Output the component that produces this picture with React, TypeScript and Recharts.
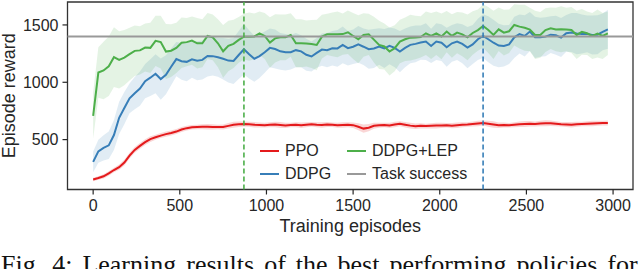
import { ComposedChart, Line, Area, XAxis, YAxis, ReferenceLine, ReferenceArea, Label } from 'recharts';

// training episodes, sampled every 30
const EPISODES = Array.from({ length: 100 }, (_, i) => i * 30);

const PPO = [
    152, 165, 180, 205, 235, 260, 300, 360, 410, 445,
    478, 505, 520, 535, 548, 558, 570, 588, 600, 608,
    610, 612, 612, 611, 610, 610, 620, 630, 634, 636,
    634, 630, 628, 626, 630, 632, 628, 624, 628, 630,
    626, 630, 634, 630, 628, 632, 630, 626, 628, 630,
    626, 612, 596, 604, 620, 625, 628, 624, 632, 639,
    630, 622, 616, 620, 618, 620, 622, 624, 625, 622,
    626, 630, 632, 636, 640, 645, 638, 632, 625, 627,
    625, 630, 634, 636, 638, 636, 640, 643, 643, 638,
    634, 632, 630, 634, 636, 638, 640, 642, 644, 645,
];
const PPO_SD = [
    15, 15, 18, 20, 20, 22, 25, 25, 25, 25,
    25, 25, 22, 22, 22, 22, 22, 22, 20, 20,
    20, 22, 24, 22, 20, 22, 24, 26, 24, 22,
    22, 24, 22, 20, 22, 24, 26, 22, 20, 22,
    24, 22, 20, 22, 24, 22, 20, 22, 24, 22,
    24, 30, 36, 32, 26, 22, 20, 22, 24, 22,
    24, 26, 24, 22, 20, 22, 24, 22, 20, 22,
    24, 22, 20, 22, 24, 22, 26, 28, 24, 22,
    20, 22, 24, 26, 24, 22, 24, 26, 24, 22,
    20, 22, 24, 22, 20, 22, 24, 22, 20, 22,
];

const DDPG = [
    306, 398, 428, 450, 540, 690, 775, 860, 905, 945,
    1010, 1040, 1074, 1028, 1065, 1135, 1202, 1183, 1178, 1200,
    1187, 1195, 1230, 1228, 1218, 1205, 1189, 1186, 1238, 1288,
    1244, 1205, 1228, 1262, 1300, 1290, 1270, 1262, 1262, 1280,
    1270, 1240, 1225, 1256, 1285, 1280, 1297, 1295, 1326, 1297,
    1310, 1330, 1310, 1288, 1295, 1312, 1295, 1317, 1300, 1268,
    1300, 1326, 1335, 1346, 1355, 1317, 1355, 1345, 1306, 1340,
    1355, 1335, 1303, 1330, 1375, 1404, 1375, 1345, 1320, 1317,
    1330, 1392, 1420, 1404, 1442, 1392, 1392, 1398, 1415, 1410,
    1390, 1427, 1433, 1425, 1420, 1422, 1412, 1415, 1440, 1462,
];
const DDPG_SD = [
    90, 100, 110, 120, 130, 140, 140, 130, 140, 150,
    150, 160, 170, 180, 170, 160, 150, 160, 170, 160,
    170, 170, 180, 170, 170, 180, 190, 200, 210, 220,
    210, 200, 190, 180, 170, 170, 160, 160, 150, 150,
    140, 140, 130, 130, 140, 150, 150, 160, 160, 150,
    150, 160, 160, 170, 170, 160, 170, 160, 170, 180,
    170, 160, 160, 150, 160, 150, 160, 160, 170, 160,
    160, 170, 180, 170, 180, 190, 200, 200, 190, 180,
    170, 180, 170, 180, 170, 180, 170, 170, 160, 170,
    170, 160, 170, 180, 170, 160, 170, 170, 160, 170,
];

const LEP = [
    708, 1085, 1103, 1140, 1219, 1196, 1215, 1245, 1274, 1278,
    1303, 1300, 1361, 1350, 1268, 1275, 1300, 1345, 1350, 1363,
    1340, 1340, 1404, 1392, 1340, 1270, 1317, 1335, 1370, 1398,
    1398, 1400, 1427, 1404, 1346, 1383, 1392, 1392, 1412, 1340,
    1340, 1338, 1334, 1325, 1398, 1418, 1418, 1418, 1420, 1436,
    1404, 1375, 1412, 1418, 1372, 1326, 1312, 1268, 1297, 1355,
    1375, 1389, 1390, 1395, 1427, 1404, 1427, 1400, 1442, 1404,
    1433, 1418, 1392, 1430, 1455, 1491, 1456, 1413, 1462, 1433,
    1445, 1500, 1485, 1475, 1460, 1413, 1413, 1455, 1471, 1460,
    1462, 1460, 1456, 1413, 1440, 1427, 1404, 1425, 1404, 1427,
];
const LEP_SD = [
    200, 220, 250, 260, 260, 250, 240, 230, 220, 210,
    210, 220, 220, 230, 240, 230, 220, 220, 210, 210,
    220, 210, 200, 200, 210, 230, 220, 210, 200, 200,
    210, 200, 190, 200, 220, 210, 200, 200, 190, 210,
    210, 200, 210, 220, 190, 180, 190, 200, 180, 190,
    200, 210, 190, 180, 200, 210, 200, 210, 200, 190,
    190, 200, 190, 180, 190, 200, 190, 200, 180, 190,
    180, 190, 200, 190, 180, 190, 200, 210, 190, 200,
    190, 180, 190, 200, 190, 210, 200, 190, 180, 190,
    200, 190, 200, 210, 200, 190, 200, 210, 200, 190,
];

const TASK_SUCCESS = 1400;
const LEP_MARK = 870;
const DDPG_MARK = 2250;

const X_TICKS = [0, 500, 1000, 1500, 2000, 2500, 3000];
const Y_TICKS = [500, 1000, 1500];

const RED = '#e41a1c';
const BLUE = '#377eb8';
const GREEN = '#4daf4a';
const GREY = '#999999';
const INK = '#262626';
const FONT = '"Liberation Sans", Arial, sans-serif';

const data = EPISODES.map((ep, i) => ({
    ep,
    ppo: PPO[i],
    ppoBand: [PPO[i] - PPO_SD[i], PPO[i] + PPO_SD[i]],
    ddpg: DDPG[i],
    ddpgBand: [DDPG[i] - DDPG_SD[i], DDPG[i] + DDPG_SD[i]],
    lep: LEP[i],
    lepBand: [LEP[i] - LEP_SD[i], LEP[i] + LEP_SD[i]],
}));

const legendItems = [
    { name: 'PPO', color: RED },
    { name: 'DDPG', color: BLUE },
    { name: 'DDPG+LEP', color: GREEN },
    { name: 'Task success', color: GREY },
];

const LegendBox = () => (
    <div style={{
        position: 'absolute', left: 260, top: 139, display: 'grid',
        gridTemplateColumns: '87px 130px', gridAutoFlow: 'column', gridTemplateRows: '23px 23px',
        fontFamily: FONT, fontSize: 16, color: INK,
    }}>
        {legendItems.map(item => (
            <div key={item.name} style={{ display: 'flex', alignItems: 'center' }}>
                <span style={{ width: 19, height: 2, background: item.color, marginRight: 6 }} />
                <span>{item.name}</span>
            </div>
        ))}
    </div>
);

export default function App() {
    const tick = { fill: INK, fontSize: 16, fontFamily: FONT };
    return (
        <div style={{ position: 'absolute', left: 0, top: 0, width: 640, height: 269, overflow: 'hidden', background: '#fff' }}>
            <ComposedChart width={640} height={240} data={data} margin={{ top: 2, right: 7, bottom: 0, left: 0 }}>
                <XAxis
                    type="number" dataKey="ep" domain={[-148, 3115]} ticks={X_TICKS}
                    allowDataOverflow height={50.5} tickSize={5} tickMargin={5}
                    axisLine={false} tickLine={{ stroke: INK, strokeWidth: 1.2 }} tick={tick}
                >
                    <Label value="Training episodes" position="insideBottom" offset={8}
                        style={{ fill: INK, fontSize: 18, fontFamily: FONT }} />
                </XAxis>
                <YAxis
                    type="number" domain={[65, 1700]} ticks={Y_TICKS} allowDataOverflow
                    width={67.5} tickSize={5} tickMargin={4}
                    axisLine={false} tickLine={{ stroke: INK, strokeWidth: 1.2 }} tick={tick}
                >
                    <Label value="Episode reward" angle={-90} position="insideLeft" offset={9}
                        style={{ fill: INK, fontSize: 18, fontFamily: FONT, textAnchor: 'middle' }} />
                </YAxis>

                <Area dataKey="ppoBand" stroke="none" fill={RED} fillOpacity={0.18} isAnimationActive={false} />
                <Area dataKey="ddpgBand" stroke="none" fill={BLUE} fillOpacity={0.15} isAnimationActive={false} />
                <Area dataKey="lepBand" stroke="none" fill={GREEN} fillOpacity={0.15} isAnimationActive={false} />

                <Line dataKey="ppo" stroke={RED} strokeWidth={2} dot={false} isAnimationActive={false} />
                <Line dataKey="ddpg" stroke={BLUE} strokeWidth={2} dot={false} isAnimationActive={false} />
                <Line dataKey="lep" stroke={GREEN} strokeWidth={2} dot={false} isAnimationActive={false} />

                <ReferenceLine y={TASK_SUCCESS} stroke={GREY} strokeWidth={2} />
                <ReferenceLine x={LEP_MARK} stroke={GREEN} strokeWidth={1.6} strokeDasharray="5 3" />
                <ReferenceLine x={DDPG_MARK} stroke={BLUE} strokeWidth={1.6} strokeDasharray="5 3" />

                <ReferenceArea x1={-148} x2={3115} y1={65} y2={1700} fill="none" stroke="#333" strokeWidth={1.3} ifOverflow="visible" />
            </ComposedChart>
            <LegendBox />
            <div style={{
                position: 'absolute', left: 1, top: 252, whiteSpace: 'nowrap',
                fontFamily: '"Liberation Serif", "Times New Roman", serif', fontSize: 26, lineHeight: '26px',
                wordSpacing: 3.5, color: '#111',
            }}>
                Fig. 4: Learning results of the best performing policies for
            </div>
        </div>
    );
}
